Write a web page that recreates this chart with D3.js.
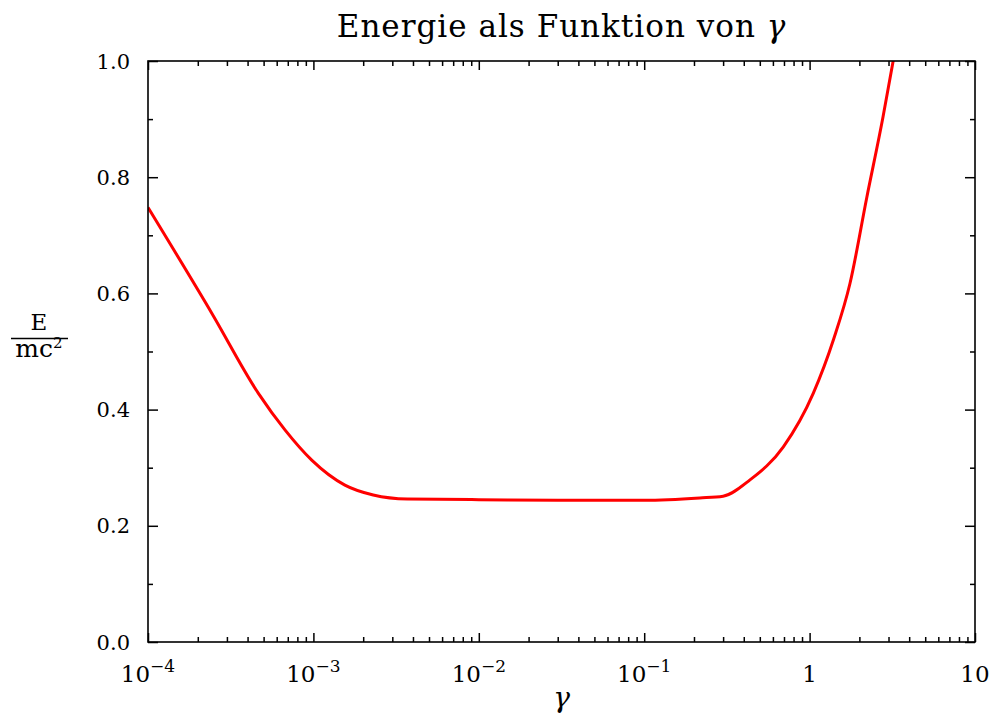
<!DOCTYPE html>
<html>
<head>
<meta charset="utf-8">
<script src="https://cdn.jsdelivr.net/npm/d3@7"></script>
<style>
  html, body { margin: 0; padding: 0; background: #fff; }
  svg text { font-family: "DejaVu Serif", "Liberation Serif", serif; fill: #000; }
</style>
</head>
<body>
<svg id="chart" width="990" height="720"></svg>
<script>
// Energy curve samples: gamma (log axis) and E / mc^2
const gammaVals  = [1e-4, 2.43e-4, 4.65e-4, 6.73e-4, 9.77e-4, 1.55e-3, 2.3e-3, 3.7e-3, 1e-2, 3e-2, 0.1, 0.217, 0.3, 0.436, 0.694, 1.052, 1.4, 1.754, 2.22, 2.78, 3.19, 3.4];
const energyVals = [0.748, 0.566, 0.428, 0.365, 0.313, 0.270, 0.253, 0.246, 0.245, 0.244, 0.244, 0.248, 0.251, 0.279, 0.336, 0.428, 0.522, 0.617, 0.766, 0.904, 0.998, 1.04];

// Axis ticks
const xMajorTicks = [1e-4, 1e-3, 1e-2, 1e-1, 1, 10];
const xMajorLabels = [["10", "−4"], ["10", "−3"], ["10", "−2"], ["10", "−1"], ["1", ""], ["10", ""]];
const yMajorTicks = [0.0, 0.2, 0.4, 0.6, 0.8, 1.0];
const yMinorTicks = [0.1, 0.3, 0.5, 0.7, 0.9];

const svg = d3.select("#chart");
const margin = { left: 148, right: 15, top: 61, bottom: 78 };
const W = 990, H = 720;
const x0 = margin.left, x1 = W - margin.right, y0 = margin.top, y1 = H - margin.bottom;

const x = d3.scaleLog().domain([1e-4, 10]).range([x0, x1]);
const y = d3.scaleLinear().domain([0, 1]).range([y1, y0]);

// minor log ticks: 2..9 within each decade
const xMinorTicks = [];
for (let e = -4; e < 1; e++) {
  for (let m = 2; m <= 9; m++) xMinorTicks.push(m * Math.pow(10, e));
}

// Clip for the curve
svg.append("defs").append("clipPath").attr("id", "plotClip")
  .append("rect").attr("x", x0).attr("y", y0).attr("width", x1 - x0).attr("height", y1 - y0);

// Curve
const data = gammaVals.map((g, i) => ({ g, e: energyVals[i] }));
svg.append("path")
  .datum(data)
  .attr("clip-path", "url(#plotClip)")
  .attr("fill", "none")
  .attr("stroke", "#ff0000")
  .attr("stroke-width", 3)
  .attr("stroke-linejoin", "round")
  .attr("d", d3.line().x(d => x(d.g)).y(d => y(d.e)).curve(d3.curveMonotoneX));

// Inward ticks on all four sides via d3 axes
const majLen = 9, minLen = 5;
function styleAxis(g) {
  g.select(".domain").remove();
  g.selectAll(".tick line").attr("stroke", "#000").attr("stroke-width", 1.5);
  g.selectAll(".tick text").remove();
}
svg.append("g").attr("transform", `translate(0,${y1})`)
  .call(d3.axisTop(x).tickValues(xMajorTicks).tickSize(majLen)).call(styleAxis);
svg.append("g").attr("transform", `translate(0,${y1})`)
  .call(d3.axisTop(x).tickValues(xMinorTicks).tickSize(minLen)).call(styleAxis);
svg.append("g").attr("transform", `translate(0,${y0})`)
  .call(d3.axisBottom(x).tickValues(xMajorTicks).tickSize(majLen)).call(styleAxis);
svg.append("g").attr("transform", `translate(0,${y0})`)
  .call(d3.axisBottom(x).tickValues(xMinorTicks).tickSize(minLen)).call(styleAxis);
svg.append("g").attr("transform", `translate(${x0},0)`)
  .call(d3.axisRight(y).tickValues(yMajorTicks).tickSize(10)).call(styleAxis);
svg.append("g").attr("transform", `translate(${x0},0)`)
  .call(d3.axisRight(y).tickValues(yMinorTicks).tickSize(minLen)).call(styleAxis);
svg.append("g").attr("transform", `translate(${x1},0)`)
  .call(d3.axisLeft(y).tickValues(yMajorTicks).tickSize(10)).call(styleAxis);
svg.append("g").attr("transform", `translate(${x1},0)`)
  .call(d3.axisLeft(y).tickValues(yMinorTicks).tickSize(minLen)).call(styleAxis);

// Frame
svg.append("rect")
  .attr("x", x0).attr("y", y0).attr("width", x1 - x0).attr("height", y1 - y0)
  .attr("fill", "none").attr("stroke", "#000").attr("stroke-width", 1.6);

// Y tick labels
svg.append("g").selectAll("text").data(yMajorTicks).join("text")
  .attr("x", x0 - 18).attr("y", d => y(d) + 7.5)
  .attr("text-anchor", "end").attr("font-size", 21)
  .text(d => d.toFixed(1));

// X tick labels with superscripts
const xl = svg.append("g").selectAll("text").data(xMajorTicks).join("text")
  .attr("x", d => x(d)).attr("y", y1 + 40)
  .attr("text-anchor", "middle").attr("font-size", 23);
xl.each(function (d, i) {
  const t = d3.select(this);
  const [base, exp] = xMajorLabels[i];
  t.append("tspan").text(base);
  if (exp) t.append("tspan").attr("font-size", 17).attr("dy", -10).text(exp);
});

// Title
const title = svg.append("text")
  .attr("x", (x0 + x1) / 2).attr("y", 37)
  .attr("text-anchor", "middle").attr("font-size", 31).attr("letter-spacing", 1);
title.append("tspan").text("Energie als Funktion von ");
title.append("tspan").attr("font-style", "italic").text("γ");

// X axis label
svg.append("text")
  .attr("x", (x0 + x1) / 2).attr("y", 707)
  .attr("text-anchor", "middle").attr("font-size", 28).attr("font-style", "italic")
  .text("γ");

// Y axis label: fraction E / mc²
const fx = 39;
svg.append("text").attr("x", fx).attr("y", 330).attr("text-anchor", "middle")
  .attr("font-size", 23).text("E");
svg.append("line").attr("x1", 11).attr("x2", 68).attr("y1", 338.5).attr("y2", 338.5)
  .attr("stroke", "#000").attr("stroke-width", 1.3);
const den = svg.append("text").attr("x", fx).attr("y", 357).attr("text-anchor", "middle")
  .attr("font-size", 25);
den.append("tspan").text("mc");
den.append("tspan").attr("font-size", 15).attr("dy", -9).text("2");
</script>
</body>
</html>
